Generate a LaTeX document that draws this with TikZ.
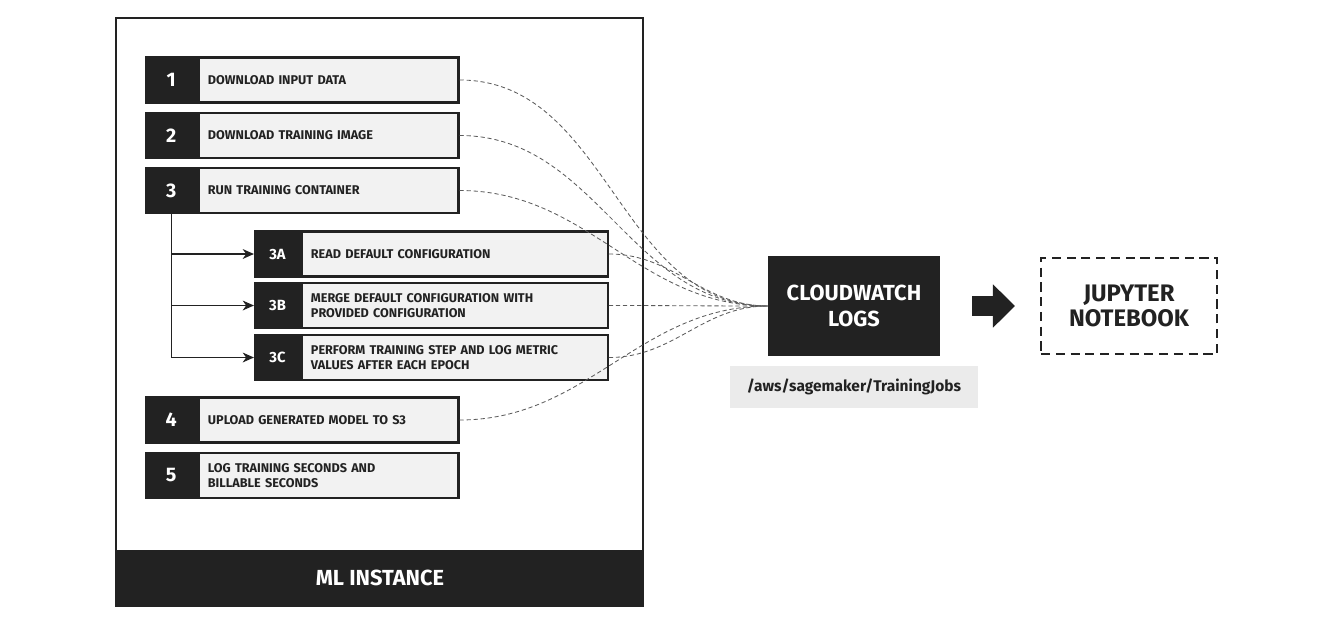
\documentclass[tikz,border=0pt]{standalone}
\usepackage{fontspec}
\setmainfont{Fira Sans}
\usetikzlibrary{positioning,arrows.meta}
\definecolor{inkdark}{HTML}{222222}
\definecolor{paperlight}{HTML}{F2F2F2}
\definecolor{pathgray}{HTML}{EBEBEB}
\definecolor{wiregray}{HTML}{5C5C5C}
\tikzset{
	steptext/.style={draw=inkdark, line width=1.6pt, fill=paperlight, anchor=west, minimum height=1.12cm, inner xsep=0.22cm, align=left, text=inkdark, font=\fontsize{9}{10.7}\selectfont\bfseries},
	mainw/.style={text width=6.04cm},
	subw/.style={text width=7.2cm},
	stepnum/.style={draw=inkdark, line width=1.6pt, fill=inkdark, text=white, minimum width=1.28cm, minimum height=1.12cm, font=\fontsize{14}{15}\selectfont\bfseries},
	subnum/.style={stepnum, minimum width=1.12cm, font=\fontsize{10.5}{11}\selectfont\bfseries},
	branch/.style={draw=inkdark, line width=1pt, -{Stealth[length=8pt,width=7pt,inset=2.5pt]}},
	logwire/.style={draw=wiregray, line width=0.6pt, dash pattern=on 3pt off 2pt},
	bigarrow/.style={draw=inkdark, line width=0.5cm, -{Triangle[length=0.55cm,width=1.05cm]}},
}

\begin{document}
\begin{tikzpicture}[x=0.025cm, y=-0.025cm]
				\useasboundingbox (0, 0) rectangle (1340, 634);
				
				% ml instance frame
				\draw[draw=inkdark, line width=2pt] (116, 18) rectangle (643, 606);
				\fill[inkdark] (116, 550) rectangle (643, 606);
				\node[text=white, font=\fontsize{15.5}{17}\selectfont\bfseries] (mlinst) at (380, 578) {ML INSTANCE};
				
				% steps
				\node[steptext, mainw] (t1) at (198, 80) {DOWNLOAD INPUT DATA};
				\node[stepnum, left=0pt of t1] (n1) {1};
				\node[steptext, mainw] (t2) at (198, 135.5) {DOWNLOAD TRAINING IMAGE};
				\node[stepnum, left=0pt of t2] (n2) {2};
				\node[steptext, mainw] (t3) at (198, 190.5) {RUN TRAINING CONTAINER};
				\node[stepnum, left=0pt of t3] (n3) {3};
				
				\node[steptext, subw] (t3a) at (301, 254) {READ DEFAULT CONFIGURATION};
				\node[subnum, left=0pt of t3a] (n3a) {3A};
				\node[steptext, subw] (t3b) at (301, 305.5) {MERGE DEFAULT CONFIGURATION WITH\\PROVIDED CONFIGURATION};
				\node[subnum, left=0pt of t3b] (n3b) {3B};
				\node[steptext, subw] (t3c) at (301, 357.5) {PERFORM TRAINING STEP AND LOG METRIC\\VALUES AFTER EACH EPOCH};
				\node[subnum, left=0pt of t3c] (n3c) {3C};
				
				\node[steptext, mainw] (t4) at (198, 420) {UPLOAD GENERATED MODEL TO S3};
				\node[stepnum, left=0pt of t4] (n4) {4};
				\node[steptext, mainw] (t5) at (198, 475.5) {LOG TRAINING SECONDS AND\\BILLABLE SECONDS};
				\node[stepnum, left=0pt of t5] (n5) {5};
				
				% sub steps of 3
				\foreach \sub in {n3a, n3b, n3c}
					\draw[branch] (n3.south) |- (\sub.west);
				
				% logs and notebook
				\node[fill=inkdark, text=white, minimum width=4.3cm, minimum height=2.5cm, align=center, font=\fontsize{15.5}{18.5}\selectfont\bfseries] (cw) at (854, 306) {CLOUDWATCH\\LOGS};
				\node[fill=pathgray, text=inkdark, minimum width=6.175cm, minimum height=1.05cm, font=\fontsize{11}{12}\selectfont\bfseries] (logpath) at (854, 387) {/aws/sagemaker/TrainingJobs};
				\node[draw=inkdark, line width=1.4pt, dash pattern=on 6.5pt off 4pt, minimum width=4.4cm, minimum height=2.4cm, align=center, text=inkdark, font=\fontsize{17}{18}\selectfont\bfseries] (jn) at (1129, 306) {JUPYTER\\NOTEBOOK};
				\draw[bigarrow, shorten <=0.8cm, shorten >=0.625cm] (cw.east) -- (jn.west);
				
				% log streams
				\foreach \src in {t1, t2, t3, t3a, t3b, t3c, t4}
					\draw[logwire] (\src.east) to[out=0, in=180] (cw.west);
\end{tikzpicture}
\end{document}
